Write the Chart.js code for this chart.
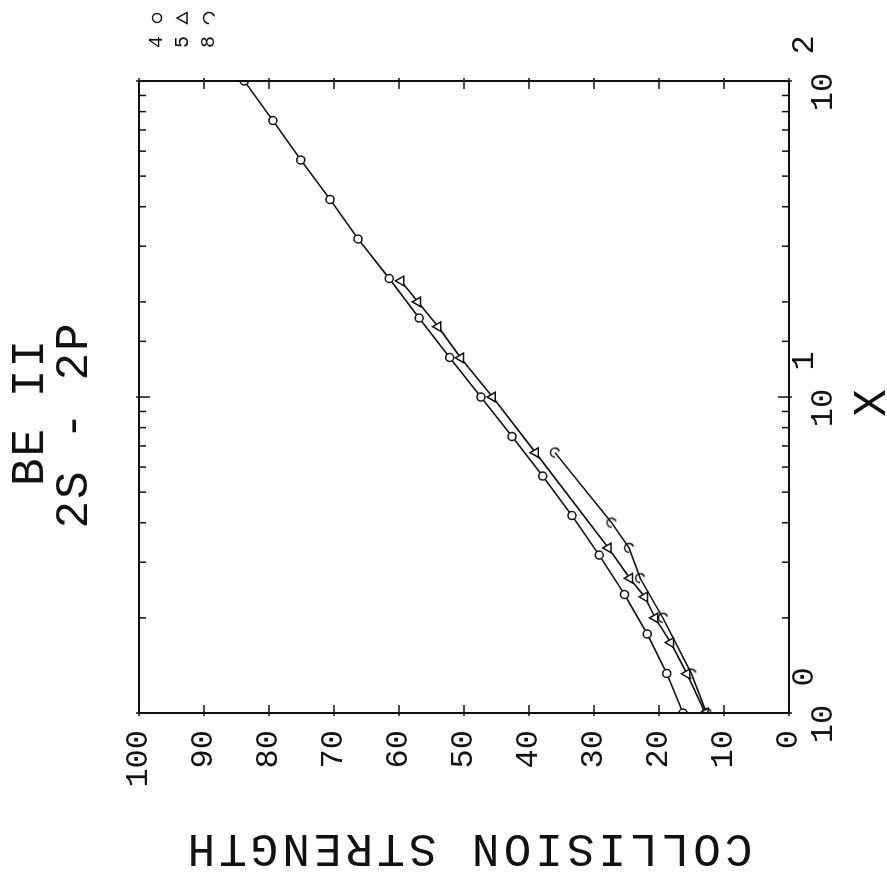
<!DOCTYPE html>
<html>
<head>
<meta charset="utf-8">
<script src="https://cdn.jsdelivr.net/npm/chart.js@4.4.1/dist/chart.umd.min.js"></script>
<style>
  html, body { margin: 0; padding: 0; background: #fff; overflow: hidden; width: 887px; height: 876px; }
  /* the plot is drawn upright, then turned a quarter turn to the left like the scan */
  #wrap { position: absolute; left: 0; top: 0; width: 876px; height: 887px;
          transform-origin: 0 0; transform: translate(0, 876px) rotate(-90deg); }
</style>
</head>
<body>
<div id="wrap"><canvas id="chart" width="876" height="887"></canvas></div>
<script>
// X (energy in threshold units) and collision strength
const xSet4 = [1, 1.334, 1.778, 2.371, 3.162, 4.217, 5.623, 7.499, 10, 13.34, 17.78, 23.71, 31.62, 42.17, 56.23, 74.99, 100];
const csSet4 = [16.3, 18.8, 21.8, 25.3, 29.2, 33.4, 37.9, 42.6, 47.4, 52.2, 56.9, 61.5, 66.3, 70.6, 75.1, 79.4, 83.8];

const xSet5 = [1, 1.33, 1.67, 2, 2.33, 2.67, 3.33, 6.67, 10, 13.3, 16.7, 20, 23.3];
const csSet5 = [12.9, 15.7, 18.2, 20.6, 22.2, 24.5, 27.8, 39.0, 45.6, 50.5, 54.0, 57.1, 59.7];

const xSet8 = [1, 1.33, 2, 2.67, 3.33, 4, 6.67];
const csSet8 = [12.7, 15.0, 19.4, 22.9, 24.6, 27.3, 36.0];

const seriesNames = ["4", "5", "8"];
const titleLines = ["BE II", "2S - 2P"];
const xTitle = "X";
const yTitle = "COLLISION STRENGTH";
const logBase = "10";
const logExponents = ["0", "1", "2"];

const FONT = '"Liberation Mono", "DejaVu Sans Mono", monospace';
const INK = "#111";

// little open "C" used as marker for the third set
function makeHook(r) {
    const s = Math.ceil(r * 2 + 5);
    const c = document.createElement("canvas");
    c.width = s; c.height = s;
    const g = c.getContext("2d");
    g.strokeStyle = INK;
    g.lineWidth = 1.5;
    g.beginPath();
    g.arc(s / 2, s / 2, r, Math.PI * 1.0, Math.PI * 2.4);
    g.stroke();
    return c;
}
const hook = makeHook(4.5);
const hookBig = makeHook(5.5);

function toPoints(xs, ys) {
    return xs.map((x, i) => ({ x: x, y: ys[i] }));
}

function drawMarker(ctx, style, x, y) {
    ctx.save();
    ctx.strokeStyle = INK;
    ctx.fillStyle = "#fff";
    ctx.lineWidth = 1.5;
    if (style === "circle") {
        ctx.beginPath();
        ctx.arc(x, y, 4.5, 0, Math.PI * 2);
        ctx.fill(); ctx.stroke();
    } else if (style === "triangle") {
        ctx.beginPath();
        ctx.moveTo(x, y - 6);
        ctx.lineTo(x + 5.5, y + 4);
        ctx.lineTo(x - 5.5, y + 4);
        ctx.closePath();
        ctx.fill(); ctx.stroke();
    } else {
        ctx.drawImage(hookBig, x - hookBig.width / 2, y - hookBig.height / 2);
    }
    ctx.restore();
}

// box, inward ticks on all four sides, log labels, titles, legend
const framePlugin = {
    id: "frame",
    afterDraw(chart) {
        const ctx = chart.ctx;
        const a = chart.chartArea;
        const xs = chart.scales.x;
        const ys = chart.scales.y;
        ctx.save();
        ctx.strokeStyle = INK;
        ctx.lineWidth = 2;
        ctx.strokeRect(a.left, a.top, a.right - a.left, a.bottom - a.top);

        ctx.lineWidth = 1.5;
        ctx.beginPath();
        xs.ticks.forEach(t => {
            const px = xs.getPixelForValue(t.value);
            const major = Math.abs(Math.log10(t.value) - Math.round(Math.log10(t.value))) < 1e-6;
            const len = major ? 11 : 7;
            ctx.moveTo(px, a.bottom + (major ? 3 : 0)); ctx.lineTo(px, a.bottom - len);
            ctx.moveTo(px, a.top - (major ? 3 : 0)); ctx.lineTo(px, a.top + len);
        });
        ys.ticks.forEach(t => {
            const py = ys.getPixelForValue(t.value);
            ctx.moveTo(a.left - 3, py); ctx.lineTo(a.left + 8, py);
            ctx.moveTo(a.right + 3, py); ctx.lineTo(a.right - 8, py);
        });
        ctx.stroke();

        ctx.fillStyle = INK;
        ctx.textAlign = "center";
        ctx.textBaseline = "alphabetic";
        ctx.font = "32px " + FONT;
        [1, 10, 100].forEach((v, i) => {
            const px = xs.getPixelForValue(v);
            ctx.fillText(logBase, px - 11, a.bottom + 43);
            ctx.fillText(logExponents[i], px + 36, a.bottom + 24);
        });

        ctx.font = "46px " + FONT;
        ctx.letterSpacing = "2px";
        ctx.fillText(xTitle, xs.getPixelForValue(10) - 5, 885);
        ctx.fillText(titleLines[0], 464, 43);
        ctx.fillText(titleLines[1], 451, 87);

        ctx.save();
        ctx.letterSpacing = "4px";
        ctx.translate(41, (a.top + a.bottom) / 2 + 4);
        ctx.rotate(-Math.PI / 2);
        ctx.fillText(yTitle, 0, 0);
        ctx.restore();

        ctx.letterSpacing = "0px";
        ctx.font = "20px " + FONT;
        ctx.textBaseline = "middle";
        const styles = ["circle", "triangle", "hook"];
        seriesNames.forEach((n, i) => {
            const py = 157 + i * 26;
            ctx.fillText(n, 834, py);
            drawMarker(ctx, styles[i], 858, py);
        });
        ctx.restore();
    }
};

const lineStyle = {
    showLine: true,
    borderColor: INK,
    borderWidth: 1.6,
    pointBorderColor: INK,
    pointBackgroundColor: "#fff",
    pointBorderWidth: 1.5,
    tension: 0
};

new Chart(document.getElementById("chart"), {
    type: "scatter",
    data: {
        datasets: [
            Object.assign({ label: seriesNames[0], data: toPoints(xSet4, csSet4), pointStyle: "circle", pointRadius: 4 }, lineStyle),
            Object.assign({ label: seriesNames[1], data: toPoints(xSet5, csSet5), pointStyle: "triangle", pointRadius: 5.5 }, lineStyle),
            Object.assign({ label: seriesNames[2], data: toPoints(xSet8, csSet8), pointStyle: hook, pointRadius: 5 }, lineStyle)
        ]
    },
    options: {
        responsive: false,
        animation: false,
        devicePixelRatio: 1,
        layout: { padding: { top: 139, right: 81, left: 0, bottom: 0 } },
        plugins: { legend: { display: false }, tooltip: { enabled: false } },
        scales: {
            x: {
                type: "logarithmic",
                min: 1,
                max: 100,
                grid: { display: false, drawTicks: false },
                border: { display: false },
                ticks: { display: false },
                afterFit: s => { s.height = 98; }
            },
            y: {
                min: 0,
                max: 100,
                grid: { display: false, drawTicks: false },
                border: { display: false },
                ticks: { stepSize: 10, padding: 17, color: INK, font: { family: FONT, size: 32 } },
                afterFit: s => { s.width = 163; }
            }
        }
    },
    plugins: [framePlugin]
});
</script>
</body>
</html>
